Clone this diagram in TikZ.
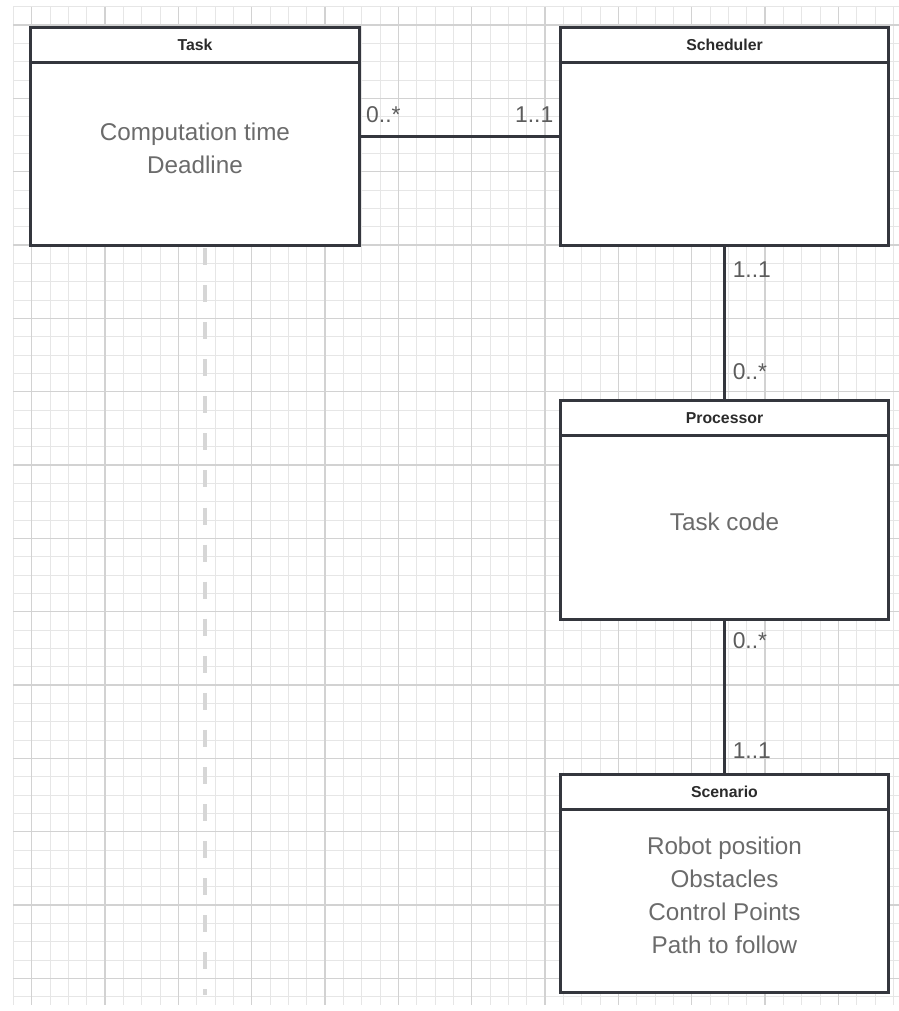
\documentclass[tikz,border=0pt]{standalone}
\usepackage{fontspec}
\setmainfont{Liberation Sans}
\usepackage{tikz}
\usetikzlibrary{positioning}

\definecolor{boxline}{HTML}{34363D}
\definecolor{headtext}{HTML}{2B2B2B}
\definecolor{bodytext}{HTML}{6B6B6B}
\definecolor{multtext}{HTML}{5C5C5C}
\definecolor{gridminor}{HTML}{E6E6E6}
\definecolor{gridmajor}{HTML}{D2D2D2}
\definecolor{dashgray}{HTML}{D6D6D6}

\begin{document}
\begin{tikzpicture}[x=0.02cm, y=-0.02cm,
    every node/.style={font=\fontsize{13}{16}\selectfont},
    classbox/.style={draw=boxline, line width=1.7pt, fill=white,
        minimum width=6.58cm, minimum height=4.38cm, inner sep=0pt},
    classhead/.style={draw=boxline, line width=1.7pt, fill=white, anchor=north,
        minimum width=6.58cm, minimum height=0.7cm, inner sep=0pt,
        font=\fontsize{9}{11}\selectfont\bfseries, text=headtext},
    classbody/.style={font=\fontsize{13.8}{18.7}\selectfont, text=bodytext, align=center},
    mult/.style={font=\fontsize{13}{16}\selectfont, text=multtext, inner sep=0pt},
    assoc/.style={draw=boxline, line width=1.7pt},
    lifeline/.style={draw=dashgray, line width=2.8pt, dash pattern=on 9.7pt off 11.4pt}]

    \useasboundingbox[fill=white] (0,0) rectangle (899,1011);

    % grid
    \foreach \i in {0,...,48}
        \draw[gridminor, line width=0.5pt] ({13.3+18.333*\i},6.7) -- ++(0,998);
    \foreach \j in {0,...,54}
        \draw[gridminor, line width=0.5pt] (13.3,{6.7+18.333*\j}) -- (899,{6.7+18.333*\j});
    \foreach \i in {1,5,...,45}
        \draw[gridmajor, line width=0.8pt] ({13.3+18.333*\i},6.7) -- ++(0,998);
    \foreach \j in {1,5,...,53}
        \draw[gridmajor, line width=0.8pt] (13.3,{6.7+18.333*\j}) -- (899,{6.7+18.333*\j});

    % dashed line under Task
    \coordinate (dashtop) at (205,248);
    \coordinate (dashend) at (205,995);
    \draw[lifeline] (dashtop) -- (dashend);

    % Task
    \node[classbox] (task) at (195,136.5) {};
    \node[classhead] (taskhead) at (task.north) {Task};
    \node[classbody] (taskbody) at ([yshift=-2.46cm]task.north) {Computation time\\Deadline};

    % Scheduler
    \node[classbox] (sched) at (724.5,136.5) {};
    \node[classhead] (schedhead) at (sched.north) {Scheduler};

    % Processor
    \node[classbox] (proc) at (724.5,510) {};
    \node[classhead] (prochead) at (proc.north) {Processor};
    \node[classbody] (procbody) at ([yshift=-2.46cm]proc.north) {Task code};

    % Scenario
    \node[classbox] (scen) at (724.5,883.5) {};
    \node[classhead] (scenhead) at (scen.north) {Scenario};
    \node[classbody] (scenbody) at ([yshift=-2.46cm]scen.north)
        {Robot position\\Obstacles\\Control Points\\Path to follow};

    % associations
    \draw[assoc] (task) -- (sched);
    \node[mult, above right=7.7pt and 2.8pt of task.east] {0..*};
    \node[mult, above left=7.7pt and 2.8pt of sched.west] {1..1};

    \draw[assoc] (sched) -- (proc);
    \node[mult, below right=8pt and 4.5pt of sched.south] {1..1};
    \node[mult, above right=10.8pt and 4.5pt of proc.north] {0..*};

    \draw[assoc] (proc) -- (scen);
    \node[mult, below right=6.3pt and 4.5pt of proc.south] {0..*};
    \node[mult, above right=8pt and 4.5pt of scen.north] {1..1};
\end{tikzpicture}
\end{document}
